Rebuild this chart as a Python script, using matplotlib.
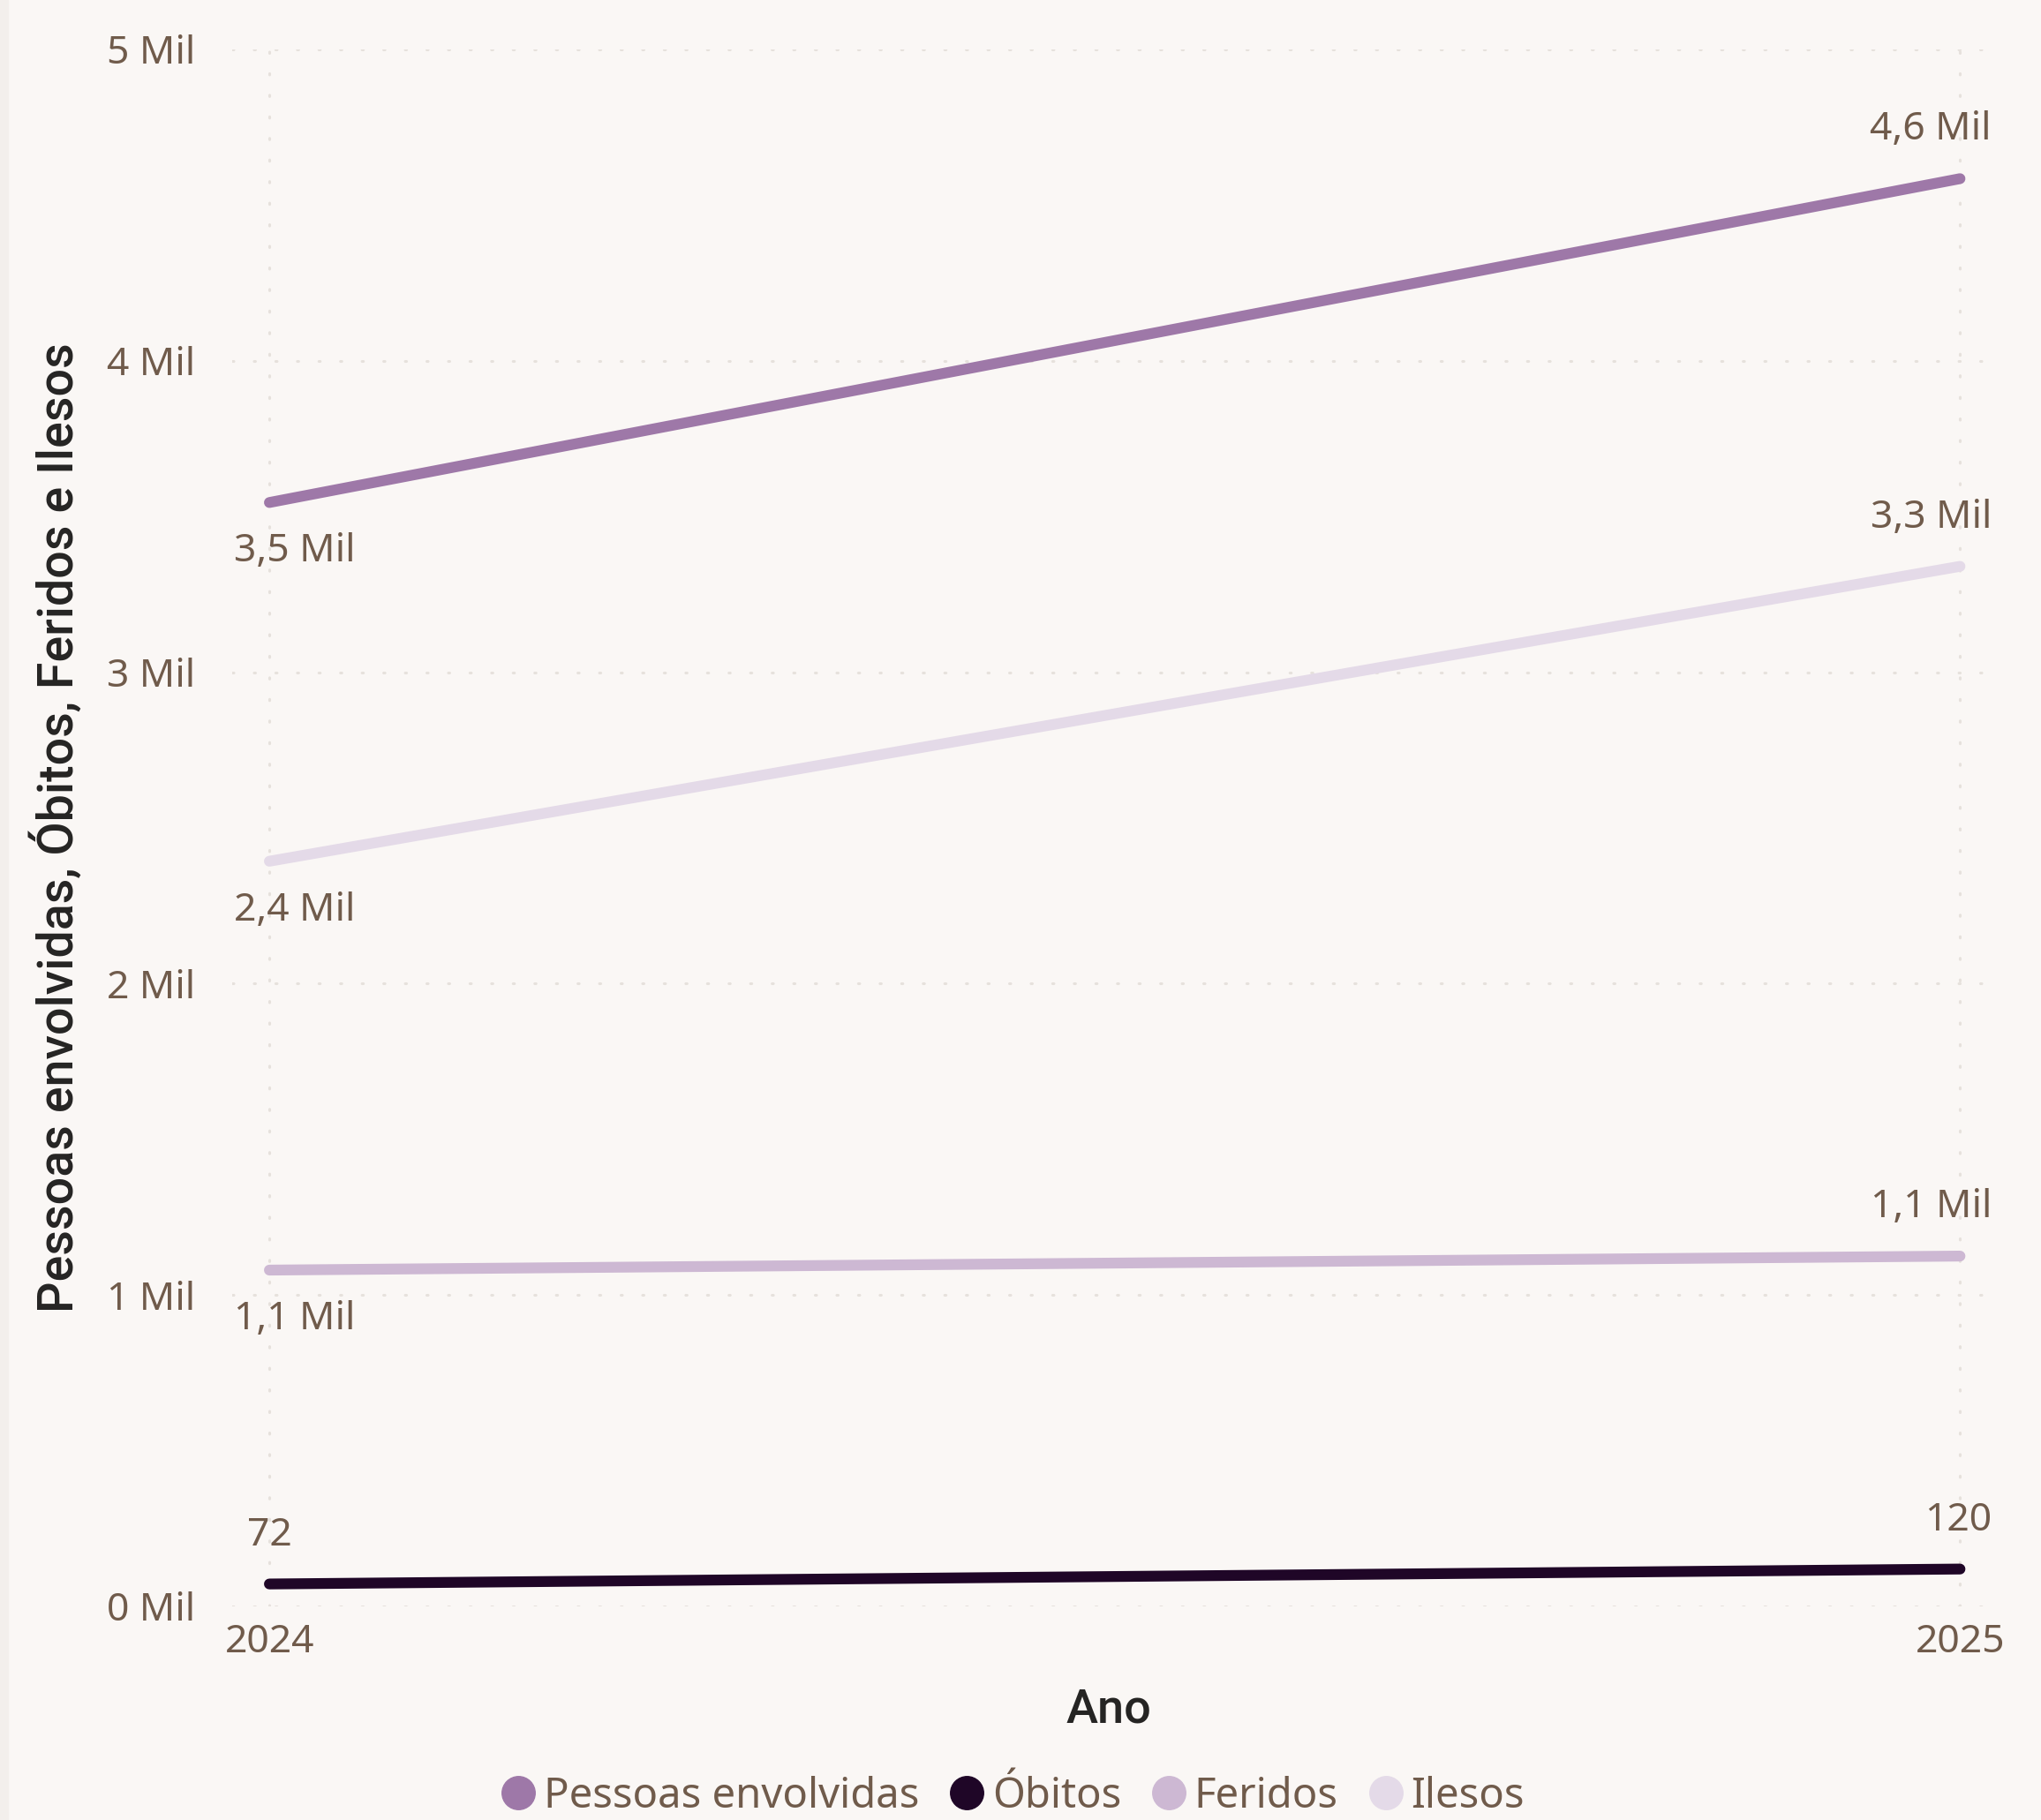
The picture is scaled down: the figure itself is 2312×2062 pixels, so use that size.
import matplotlib
matplotlib.use("Agg")
import matplotlib.pyplot as plt
from matplotlib.lines import Line2D
from matplotlib.ticker import FixedLocator, FuncFormatter

# dados
anos = [2024, 2025]
series = ["Pessoas envolvidas", "Óbitos", "Feridos", "Ilesos"]
pessoas = [3545, 4585]
obitos = [72, 120]
feridos = [1080, 1125]
ilesos = [2393, 3340]
valores = [pessoas, obitos, feridos, ilesos]
cores = ["#9E78A8", "#1F0627", "#CDB8D3", "#E4DAE8"]
yticks = [0, 1000, 2000, 3000, 4000, 5000]

fundo = "#FAF7F5"
cor_texto = "#705B4B"
cor_titulo = "#252423"
cor_grade = "#E6E1DC"

W, H = 2312, 2062
fig = plt.figure(figsize=(W / 100, H / 100), dpi=100, facecolor=fundo)
fig.patches.append(plt.Rectangle((0, 0), 9 / W, 1, transform=fig.transFigure,
                                 color="#F3EFEC", zorder=0))

ax_l, ax_r, ax_t, ax_b = 263, 2249, 56, 1820
ax = fig.add_axes([ax_l / W, 1 - ax_b / H, (ax_r - ax_l) / W, (ax_b - ax_t) / H])
ax.set_facecolor(fundo)

for vals, cor in zip(valores, cores):
    ax.plot(anos, vals, color=cor, lw=8.8, solid_capstyle="round", zorder=3)

ax.set_xlim(2023.978, 2025.015)
ax.set_ylim(0, 5000)

ax.xaxis.set_major_locator(FixedLocator(anos))
ax.xaxis.set_major_formatter(FuncFormatter(lambda v, p: f"{int(round(v))}"))
ax.yaxis.set_major_locator(FixedLocator(yticks))
ax.yaxis.set_major_formatter(FuncFormatter(lambda v, p: f"{int(v / 1000)} Mil"))

fonte = "Noto Sans"
ax.tick_params(axis="both", length=0, labelsize=32, labelcolor=cor_texto)
ax.tick_params(axis="y", pad=30)
ax.tick_params(axis="x", pad=14)
for lab in ax.get_xticklabels() + ax.get_yticklabels():
    lab.set_family(fonte)

ax.grid(True, color=cor_grade, lw=2.2, linestyle=(0, (0.5, 7.5)),
        dash_capstyle="round", zorder=1)
for s in ax.spines.values():
    s.set_visible(False)

ax.set_xlabel("Ano", fontsize=39, color=cor_titulo, family="Roboto",
              fontweight="medium", labelpad=20)
ax.set_ylabel("Pessoas envolvidas, Óbitos, Feridos e Ilesos", fontsize=40,
              color=cor_titulo, family="Roboto", fontweight="medium", labelpad=20)


def rotulo(v):
    if v >= 1000:
        return f"{v / 1000:.1f} Mil".replace(".", ",")
    return f"{v}"


anotacoes = []
for vals in valores:
    for i, (x, v) in enumerate(zip(anos, vals)):
        # primeiro ano: rótulo abaixo (exceto valores pequenos), último: acima
        dy = 55 if (i == 1 or v < 1000) else -56
        a = ax.annotate(rotulo(v), (x, v), xytext=(0, dy), textcoords="offset pixels",
                        ha="center", va="center", fontsize=32, color=cor_texto,
                        family=fonte, annotation_clip=False, zorder=4)
        anotacoes.append(a)

# manter rótulos dentro da área do gráfico
fig.canvas.draw()
r = fig.canvas.get_renderer()
lim_esq, lim_dir = ax_l + 2, ax_r + 7
for a in anotacoes:
    bb = a.get_window_extent(r)
    dx, dy = a.xyann
    if bb.x0 < lim_esq:
        a.xyann = (dx + lim_esq - bb.x0, dy)
    elif bb.x1 > lim_dir:
        a.xyann = (dx - (bb.x1 - lim_dir), dy)

handles = [Line2D([], [], marker="o", color=c, lw=0, markersize=27) for c in cores]
leg = fig.legend(handles, series, loc="center", bbox_to_anchor=(1143 / W, 1 - 2035 / H),
                 ncol=4, frameon=False, handletextpad=0.0, columnspacing=0.55,
                 handlelength=1.2, prop={"family": fonte, "size": 34})
for t in leg.get_texts():
    t.set_color(cor_texto)

fig.savefig("out.png", dpi=100, facecolor=fundo)
